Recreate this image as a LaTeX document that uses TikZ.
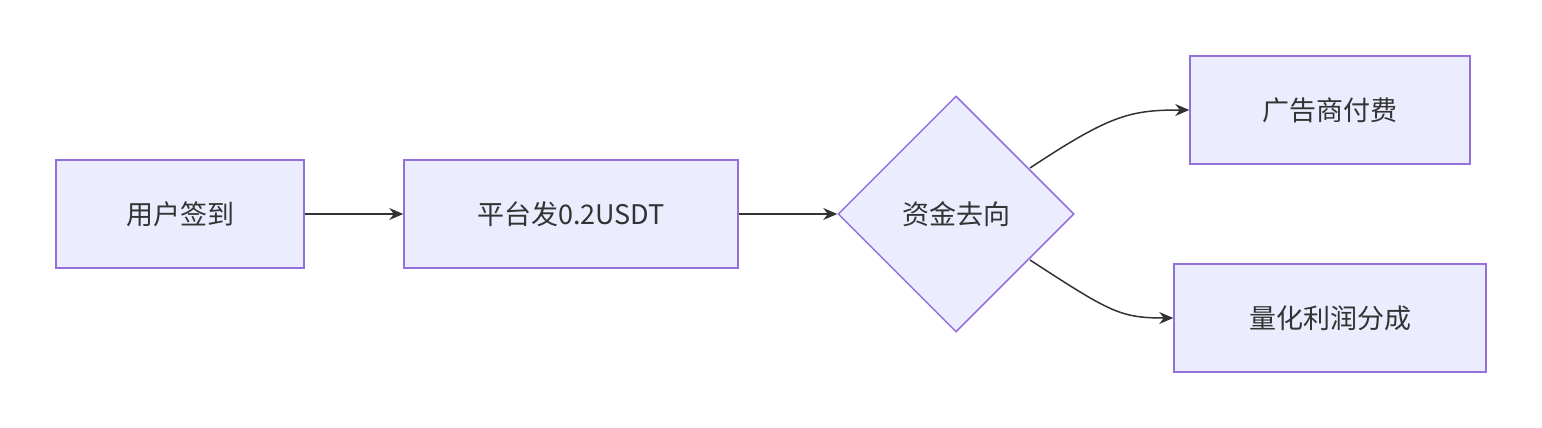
\documentclass[tikz,border=0pt]{standalone}
\usepackage{fontspec}
\setmainfont{Noto Sans CJK SC}
\usetikzlibrary{shapes.geometric,arrows.meta}
\definecolor{boxfill}{HTML}{ECECFF}
\definecolor{boxline}{HTML}{9370DB}
\definecolor{linkc}{HTML}{333333}
\tikzset{
  flowbox/.style={draw=boxline,fill=boxfill,line width=1.5pt,minimum height=108pt,inner sep=0pt,font=\fontsize{27}{32}\selectfont,text=linkc},
  choice/.style={diamond,aspect=1,draw=boxline,fill=boxfill,line width=1.5pt,minimum size=236pt,inner sep=0pt,font=\fontsize{27}{32}\selectfont,text=linkc},
  link/.style={draw=linkc,line width=1.5pt,-{Stealth[length=14pt,width=12pt]}}
}
\begin{document}
\begin{tikzpicture}[x=1pt,y=-1pt]
  \useasboundingbox (0,0) rectangle (1542,428);

  \node[flowbox,minimum width=248pt] (sign) at (180,214) {用户签到};
  \node[flowbox,minimum width=334pt] (pay) at (571,214) {平台发0.2USDT};
  \node[choice] (flow) at (956,214) {资金去向};
  \node[flowbox,minimum width=280pt] (ads) at (1330,110) {广告商付费};
  \node[flowbox,minimum width=312pt] (quant) at (1330,318) {量化利润分成};

  \coordinate (up) at (1030,168);
  \coordinate (down) at (1030,260);

  \draw[link] (sign) -- (pay);
  \draw[link] (pay) -- (flow);
  \draw[link] (up) .. controls (1110,115) and (1130,110) .. (ads.west);
  \draw[link] (down) .. controls (1110,312) and (1120,318) .. (quant.west);
\end{tikzpicture}
\end{document}
